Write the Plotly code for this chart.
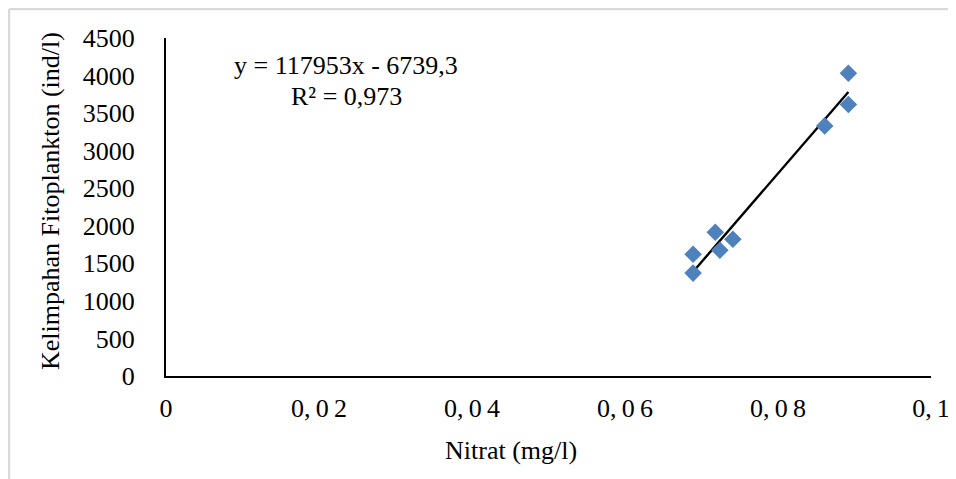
import plotly.graph_objects as go

# Data
nitrat = [0.0689, 0.0689, 0.0718, 0.0724, 0.0741, 0.0861, 0.0892, 0.0892]
kelimpahan = [1370, 1620, 1915, 1675, 1820, 3330, 3615, 4030]

# Trendline coefficients (from the equation shown on the chart)
slope = 117953
intercept = -6739.3
eq_text = "y = 117953x - 6739,3"
r2_text = "R² = 0,973"

x_ticks = [0, 0.02, 0.04, 0.06, 0.08, 0.1]
x_ticklabels = ["0", "0,\u20090\u20092", "0,\u20090\u20094", "0,\u20090\u20096", "0,\u20090\u20098", "0,\u20091"]
y_ticks = [0, 500, 1000, 1500, 2000, 2500, 3000, 3500, 4000, 4500]

x_title = "Nitrat (mg/l)"
y_title = "Kelimpahan Fitoplankton (ind/l)"

FONT = "Liberation Serif, Times New Roman, serif"
FS = 26

x_line = [min(nitrat), max(nitrat)]
y_line = [slope * v + intercept for v in x_line]

fig = go.Figure()
fig.add_trace(go.Scatter(
    x=x_line, y=y_line, mode="lines",
    line=dict(color="black", width=2.4), showlegend=False, hoverinfo="skip"))
fig.add_trace(go.Scatter(
    x=nitrat, y=kelimpahan, mode="markers",
    marker=dict(symbol="diamond", size=13.5, color="#4F81BD"),
    showlegend=False))

# The page body has an 8px margin, so the figure starts at page (8, 8).
OFF = 8
PAGE_W, PAGE_H = 956, 479
W, H = PAGE_W - OFF, PAGE_H - OFF
# Plot area in page pixels
X0, X1, Y0, Y1 = 166, 931, 38, 376
L, R, T, B = X0 - OFF, PAGE_W - X1, Y0 - OFF, PAGE_H - Y1
pw, ph = X1 - X0, Y1 - Y0
def px(xp):
    return (xp - X0) / pw
def py(yp):
    return (Y1 - yp) / ph

fig.update_layout(
    width=W, height=H,
    margin=dict(l=L, r=R, t=T, b=B, autoexpand=False),
    paper_bgcolor="white", plot_bgcolor="white",
    font=dict(family=FONT, size=FS, color="black"),
    xaxis=dict(
        range=[0, 0.1], tickmode="array", tickvals=x_ticks, ticktext=x_ticklabels,
        showgrid=False, zeroline=False, showline=True, linecolor="black", linewidth=2,
        ticks="", ticklabelstandoff=8, automargin=False,
        tickfont=dict(family=FONT, size=FS),
    ),
    yaxis=dict(
        range=[0, 4500], tickmode="array", tickvals=y_ticks,
        showgrid=False, zeroline=False, showline=True, linecolor="black", linewidth=2,
        ticks="", ticklabelstandoff=24, automargin=False,
        tickfont=dict(family=FONT, size=FS),
    ),
    annotations=[
        dict(text=eq_text, x=px(346), y=py(66), xref="paper", yref="paper",
             showarrow=False, font=dict(family=FONT, size=FS), xanchor="center", yanchor="middle"),
        dict(text=r2_text, x=px(346), y=py(96), xref="paper", yref="paper",
             showarrow=False, font=dict(family=FONT, size=FS), xanchor="center", yanchor="middle"),
        dict(text=x_title, x=px(511), y=py(451), xref="paper", yref="paper",
             showarrow=False, font=dict(family=FONT, size=FS), xanchor="center", yanchor="middle"),
        dict(text=y_title, x=px(50), y=py(201), xref="paper", yref="paper", textangle=-90,
             showarrow=False, font=dict(family=FONT, size=FS), xanchor="center", yanchor="middle"),
    ],
    shapes=[
        dict(type="line", xref="paper", yref="paper", x0=px(9), x1=px(9), y0=py(9), y1=py(479),
             line=dict(color="#d9d9d9", width=2.5)),
        dict(type="line", xref="paper", yref="paper", x0=px(9), x1=px(956), y0=py(9), y1=py(9),
             line=dict(color="#d9d9d9", width=2.5)),
    ],
)

fig.write_html("out.html")
